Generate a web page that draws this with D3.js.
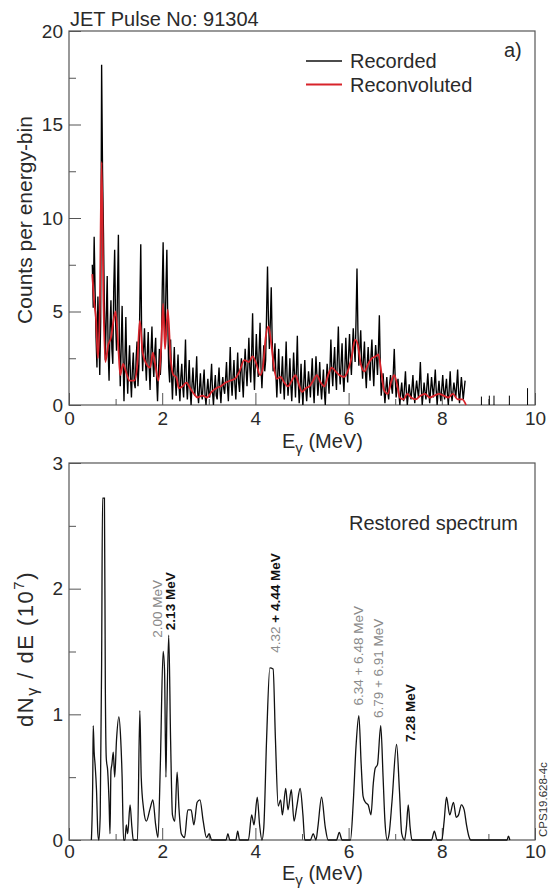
<!DOCTYPE html>
<html>
<head>
<meta charset="utf-8">
<script src="https://cdn.jsdelivr.net/npm/d3@7"></script>
<style>
  body { margin: 0; background: #fff; }
  svg text { font-family: "Liberation Sans", Arial, sans-serif; }
</style>
</head>
<body>
<div id="chart"></div>
<script>
// ---- data ----
// recorded spectrum, one value per 0.02 MeV channel starting at 0.50 MeV
const recStart = 0.5;
const recStep = 0.02;
const recCounts = [
  7.5, 5.2, 9.0, 6.1, 3.6, 2.0, 5.8, 3.9, 1.6, 4.5,
  18.2, 12.5, 9.2, 5.0, 2.4, 4.8, 6.9, 2.9, 1.3, 4.1,
  5.6, 3.0, 2.2, 6.2, 8.3, 4.4, 2.9, 6.0, 9.1, 3.4,
  1.0, 3.1, 5.3, 2.5, 0.2, 2.4, 4.7, 2.0, 0.6, 2.1,
  3.2, 1.5, 0.4, 1.9, 2.8, 1.2, 0.9, 2.5, 3.4, 1.0,
  2.1, 5.3, 8.6, 3.5, 1.8, 3.0, 4.1, 2.4, 1.3, 2.7,
  3.9, 2.0, 0.8, 2.9, 4.2, 2.3, 1.5, 2.8, 3.6, 1.4,
  0.2, 1.8, 3.0, 1.6, 2.6, 6.1, 8.7, 5.0, 3.3, 6.2,
  8.3, 4.4, 2.0, 1.2, 3.5, 1.6, 0.3, 1.9, 3.1, 1.4,
  0.5, 1.7, 2.7, 1.1, 0.2, 1.5, 2.2, 1.0, 0.4, 1.8,
  3.5, 1.2, 0.3, 1.3, 2.4, 0.8, 0.0, 1.1, 2.0, 0.9,
  0.5, 1.4, 2.6, 0.7, 0.1, 0.9, 1.7, 0.6, 0.3, 1.2,
  1.9, 0.5, 0.0, 0.8, 1.4, 0.6, 0.4, 1.3, 2.2, 0.7,
  0.0, 0.9, 1.6, 0.5, 0.3, 1.2, 2.0, 0.8, 0.1, 1.0,
  1.5, 0.9, 0.6, 1.4, 2.3, 1.0, 0.2, 1.6, 3.1, 1.3,
  0.5, 1.5, 2.4, 1.1, 0.3, 1.6, 2.8, 1.2, 0.7, 1.9,
  2.5, 1.3, 0.4, 1.8, 3.0, 1.9, 1.0, 2.2, 3.6, 2.0,
  1.2, 2.8, 4.9, 2.1, 0.8, 2.3, 3.8, 2.4, 1.5, 2.9,
  4.4, 2.0, 0.9, 2.1, 3.2, 1.8, 2.4, 4.9, 7.4, 4.6,
  3.0, 4.4, 6.3, 3.5, 1.8, 2.5, 3.3, 1.6, 0.4, 1.7,
  3.0, 1.4, 0.6, 1.5, 2.6, 1.2, 0.3, 1.8, 3.4, 1.5,
  0.5, 1.3, 2.5, 1.1, 0.2, 1.4, 2.8, 1.6, 0.4, 1.9,
  3.7, 1.2, 0.1, 1.0, 2.2, 0.8, 0.0, 1.3, 2.4, 0.9,
  0.2, 1.0, 1.8, 1.2, 0.4, 1.5, 2.5, 1.0, 0.1, 1.4,
  2.6, 1.6, 0.5, 1.2, 2.3, 1.0, 0.3, 1.1, 1.9, 0.7,
  0.0, 1.3, 2.2, 1.5, 0.6, 2.0, 3.5, 1.8, 1.0, 2.2,
  3.1, 1.6, 0.8, 2.6, 4.2, 2.0, 1.1, 2.3, 3.3, 1.5,
  0.7, 2.0, 3.6, 2.2, 1.2, 2.7, 3.8, 2.5, 1.6, 2.9,
  4.1, 3.0, 2.3, 4.6, 7.3, 4.0, 2.1, 3.0, 4.0, 2.4,
  1.4, 2.5, 3.4, 1.8, 0.9, 2.2, 3.1, 2.0, 1.3, 2.6,
  3.5, 2.0, 1.0, 2.3, 3.2, 2.5, 1.6, 3.0, 4.8, 2.2,
  0.5, 1.1, 1.7, 0.8, 0.1, 0.9, 1.5, 0.7, 0.3, 1.1,
  1.6, 1.0, 0.6, 1.8, 3.0, 1.4, 0.4, 0.9, 1.4, 0.6,
  0.0, 0.7, 1.2, 0.5, 0.2, 1.0, 1.8, 0.7, 0.0, 0.6,
  1.1, 0.6, 0.3, 0.9, 1.6, 0.7, 0.1, 0.8, 1.3, 0.8,
  0.4, 1.2, 2.3, 0.9, 0.0, 0.6, 1.2, 0.7, 0.3, 1.0,
  1.7, 0.8, 0.1, 0.8, 1.5, 0.9, 0.4, 1.1, 1.9, 0.8,
  0.0, 0.7, 1.3, 0.6, 0.2, 0.9, 1.6, 0.8, 0.3, 0.9,
  1.4, 0.6, 0.0, 0.9, 1.8, 0.7, 0.2, 0.7, 1.2, 0.8,
  0.4, 1.1, 1.9, 0.7, 0.1, 0.8, 1.5, 0.9, 0.3, 0.8,
  1.3
];
// isolated counts above 8.5 MeV
const tailE = [8.85, 9.02, 9.12, 9.45, 9.84];
const tailCounts = [0.45, 0.5, 0.5, 0.5, 0.9];

// reconvoluted curve
const reconE = [
  0.50, 0.54, 0.58, 0.62, 0.66, 0.70, 0.74, 0.78, 0.84, 0.90,
  0.96, 1.00, 1.06, 1.10, 1.16, 1.22, 1.30, 1.40, 1.46, 1.52,
  1.58, 1.66, 1.74, 1.80, 1.86, 1.92, 1.98, 2.02, 2.06, 2.12,
  2.18, 2.24, 2.30, 2.36, 2.44, 2.52, 2.60, 2.68, 2.76, 2.86,
  2.96, 3.06, 3.16, 3.26, 3.36, 3.46, 3.56, 3.66, 3.76, 3.86,
  3.94, 4.02, 4.10, 4.16, 4.22, 4.28, 4.34, 4.40, 4.46, 4.54,
  4.62, 4.70, 4.78, 4.86, 4.92, 5.00, 5.08, 5.16, 5.24, 5.32,
  5.40, 5.48, 5.56, 5.64, 5.72, 5.80, 5.90, 5.98, 6.06, 6.14,
  6.20, 6.26, 6.34, 6.42, 6.50, 6.58, 6.64, 6.70, 6.76, 6.84,
  6.92, 6.98, 7.04, 7.10, 7.18, 7.26, 7.34, 7.44, 7.54, 7.64,
  7.74, 7.84, 7.94, 8.04, 8.14, 8.24, 8.34, 8.44, 8.52
];
const reconCounts = [
  7.0, 5.5, 4.6, 2.5, 5.0, 13.0, 5.5, 2.3, 3.2, 3.6,
  4.6, 5.0, 3.0, 1.6, 2.2, 1.8, 1.3, 1.3, 2.0, 4.5,
  2.8, 2.2, 2.0, 2.8, 2.0, 1.3, 3.2, 5.4, 3.0, 5.1,
  2.5, 1.6, 1.5, 0.9, 1.0, 1.2, 0.9, 0.6, 0.4, 0.5,
  0.4, 0.7, 0.9, 1.0, 1.2, 1.3, 1.4, 1.8, 2.4, 2.3,
  2.6, 2.2, 1.6, 2.0, 3.6, 4.2, 3.3, 2.0, 1.4, 1.5,
  1.2, 1.0, 1.3, 1.6, 1.2, 0.7, 0.9, 1.0, 1.3, 1.6,
  1.2, 1.0, 1.6, 2.0, 1.8, 1.6, 1.5, 1.8, 2.5, 3.5,
  3.2, 2.2, 1.8, 2.2, 2.5, 2.6, 2.7, 1.8, 0.8, 0.6,
  1.3, 1.6, 1.1, 0.4, 0.3, 0.6, 0.4, 0.3, 0.5, 0.6,
  0.4, 0.5, 0.6, 0.5, 0.4, 0.6, 0.3, 0.3, 0.0
];

// restored spectrum (units of 10^7)
const restE = [
  0.48, 0.51, 0.52, 0.54, 0.56, 0.59, 0.62, 0.64, 0.67, 0.70,
  0.72, 0.76, 0.78, 0.80, 0.83, 0.86, 0.88, 0.90, 0.92, 0.95,
  0.98, 1.02, 1.07, 1.11, 1.14, 1.17, 1.20, 1.23, 1.26, 1.31,
  1.35, 1.38, 1.47, 1.52, 1.55, 1.60, 1.66, 1.74, 1.80, 1.86,
  1.91, 1.96, 2.02, 2.05, 2.08, 2.10, 2.14, 2.18, 2.22, 2.27,
  2.32, 2.36, 2.41, 2.48, 2.55, 2.62, 2.68, 2.75, 2.81, 2.88,
  2.95, 3.01, 3.06, 3.37, 3.41, 3.45, 3.58, 3.62, 3.66, 3.85,
  3.92, 3.97, 4.04, 4.09, 4.14, 4.18, 4.24, 4.31, 4.38, 4.43,
  4.49, 4.54, 4.58, 4.65, 4.70, 4.77, 4.83, 4.89, 4.96, 5.02,
  5.06, 5.18, 5.24, 5.30, 5.34, 5.42, 5.50, 5.56, 5.74, 5.80,
  5.86, 6.04, 6.10, 6.16, 6.22, 6.27, 6.31, 6.36, 6.42, 6.48,
  6.53, 6.57, 6.62, 6.69, 6.74, 6.78, 6.83, 6.87, 6.93, 7.03,
  7.09, 7.14, 7.20, 7.24, 7.28, 7.32, 7.36, 7.78, 7.84, 7.90,
  8.00, 8.05, 8.10, 8.17, 8.25, 8.31, 8.36, 8.42, 8.48, 8.53,
  8.58, 8.62, 9.40, 9.43, 9.46
];
const restValues = [
  0.00, 0.50, 0.91, 0.70, 0.60, 0.40, 0.05, 0.00, 0.20, 1.40,
  2.72, 2.72, 1.20, 0.65, 0.55, 0.30, 0.05, 0.55, 0.60, 0.70,
  0.50, 0.80, 0.98, 0.80, 0.50, 0.00, 0.00, 0.12, 0.05, 0.28,
  0.10, 0.00, 0.00, 1.03, 0.50, 0.25, 0.15, 0.25, 0.32, 0.12,
  0.02, 0.60, 1.50, 1.35, 0.50, 1.00, 1.63, 0.80, 0.20, 0.15,
  0.54, 0.25, 0.05, 0.02, 0.24, 0.24, 0.12, 0.30, 0.32, 0.15,
  0.02, 0.05, 0.00, 0.00, 0.05, 0.00, 0.00, 0.07, 0.00, 0.00,
  0.20, 0.12, 0.34, 0.12, 0.00, 0.10, 0.80, 1.37, 1.36, 0.80,
  0.27, 0.32, 0.20, 0.41, 0.24, 0.40, 0.15, 0.27, 0.41, 0.20,
  0.00, 0.00, 0.05, 0.00, 0.10, 0.34, 0.10, 0.00, 0.00, 0.06,
  0.00, 0.00, 0.30, 0.75, 0.99, 0.60, 0.35, 0.30, 0.28, 0.20,
  0.45, 0.57, 0.60, 0.91, 0.50, 0.15, 0.00, 0.05, 0.30, 0.76,
  0.40, 0.05, 0.00, 0.10, 0.28, 0.10, 0.00, 0.00, 0.07, 0.00,
  0.00, 0.15, 0.34, 0.20, 0.30, 0.18, 0.20, 0.28, 0.24, 0.12,
  0.03, 0.00, 0.00, 0.03, 0.00
];

// peak annotations: grey part and black bold part, anchored at (E, value)
const peakGrey = ["2.00 MeV", "", "4.32 ", "6.34 + 6.48 MeV", "6.79 + 6.91 MeV", ""];
const peakBold = ["", "2.13 MeV", "+ 4.44 MeV", "", "", "7.28 MeV"];
const peakE = [2.0, 2.27, 4.53, 6.31, 6.74, 7.42];
const peakV = [1.61, 1.67, 1.49, 1.07, 0.97, 0.78];

const xMajor = [0, 2, 4, 6, 8, 10];
const xMinor = [1, 3, 5, 7, 9];
const yTopMajor = [0, 5, 10, 15, 20];
const yTopMinor = [2.5, 7.5, 12.5, 17.5];
const yBotMajor = [0, 1, 2, 3];
const yBotMinor = [0.5, 1.5, 2.5];

// ---- layout ----
const width = 549, height = 895;
const left = 69, right = 535;
const panel1 = { y0: 31, y1: 405 };
const panel2 = { y0: 463, y1: 840 };
const frameColor = "#555";
const textColor = "#2a2a2a";

const svg = d3.select("#chart").append("svg")
    .attr("width", width)
    .attr("height", height);

const x = d3.scaleLinear().domain([0, 10]).range([left, right]);
const yTop = d3.scaleLinear().domain([0, 20]).range([panel1.y1, panel1.y0]);
const yBot = d3.scaleLinear().domain([0, 3]).range([panel2.y1, panel2.y0]);

// draws frame and inward ticks for one panel
function drawAxes(yScale, yMajor, yMinor, bottomY, labelPad) {
    svg.append("g")
        .attr("transform", `translate(0,${bottomY})`)
        .call(d3.axisBottom(x).tickValues(xMajor).tickSize(-12).tickPadding(labelPad).tickFormat(d3.format("d")));
    svg.append("g")
        .attr("transform", `translate(0,${bottomY})`)
        .call(d3.axisBottom(x).tickValues(xMinor).tickSize(-6).tickFormat(""));
    svg.append("g")
        .attr("transform", `translate(${left},0)`)
        .call(d3.axisLeft(yScale).tickValues(yMajor).tickSize(-12).tickPadding(6).tickFormat(d3.format("d")));
    svg.append("g")
        .attr("transform", `translate(${left},0)`)
        .call(d3.axisLeft(yScale).tickValues(yMinor).tickSize(-7).tickFormat(""));

    svg.selectAll(".domain").remove();
    svg.selectAll(".tick line").attr("stroke", frameColor);
    svg.selectAll(".tick text")
        .attr("fill", textColor)
        .style("font-size", "19px")
        .style("font-family", "'Liberation Sans', Arial, sans-serif");

    svg.append("rect")
        .attr("x", left)
        .attr("y", yScale.range()[1])
        .attr("width", right - left)
        .attr("height", yScale.range()[0] - yScale.range()[1])
        .attr("fill", "none")
        .attr("stroke", frameColor)
        .attr("stroke-width", 1.2);
}

// x axis title with subscript gamma
function xTitle(baseY) {
    const t = svg.append("text")
        .attr("x", 282)
        .attr("y", baseY)
        .attr("fill", textColor)
        .style("font-size", "20px");
    t.append("tspan").text("E");
    t.append("tspan").text("γ").style("font-size", "15px").attr("dy", 5);
    t.append("tspan").text(" (MeV)").attr("dy", -5);
}

// ---------- top panel ----------
svg.append("text")
    .attr("x", 70)
    .attr("y", 26)
    .attr("fill", textColor)
    .style("font-size", "20px")
    .text("JET Pulse No: 91304");

drawAxes(yTop, yTopMajor, yTopMinor, panel1.y1, 7);

const recLine = d3.line()
    .x((d, i) => x(recStart + i * recStep))
    .y(d => yTop(d));

svg.append("path")
    .datum(recCounts)
    .attr("d", recLine)
    .attr("fill", "none")
    .attr("stroke", "#000")
    .attr("stroke-width", 1.35);

svg.append("g")
    .selectAll("line")
    .data(tailE)
    .enter()
    .append("line")
    .attr("x1", d => x(d))
    .attr("x2", d => x(d))
    .attr("y1", yTop(0))
    .attr("y2", (d, i) => yTop(tailCounts[i]))
    .attr("stroke", "#000")
    .attr("stroke-width", 1);

const reconLine = d3.line()
    .x((d, i) => x(reconE[i]))
    .y(d => yTop(d))
    .curve(d3.curveMonotoneX);

svg.append("path")
    .datum(reconCounts)
    .attr("d", reconLine)
    .attr("fill", "none")
    .attr("stroke", "#d8232a")
    .attr("stroke-width", 1.8);

// legend
const legendItems = [
    { label: "Recorded", color: "#111", w: 1.4 },
    { label: "Reconvoluted", color: "#d8232a", w: 2 }
];
legendItems.forEach((item, i) => {
    const ly = 61 + i * 23.5;
    svg.append("line")
        .attr("x1", 306).attr("x2", 342)
        .attr("y1", ly).attr("y2", ly)
        .attr("stroke", item.color)
        .attr("stroke-width", item.w);
    svg.append("text")
        .attr("x", 350)
        .attr("y", ly + 7)
        .attr("fill", textColor)
        .style("font-size", "20px")
        .text(item.label);
});

svg.append("text")
    .attr("x", 504)
    .attr("y", 57)
    .attr("fill", textColor)
    .style("font-size", "20px")
    .text("a)");

svg.append("text")
    .attr("transform", "translate(32,220) rotate(-90)")
    .attr("text-anchor", "middle")
    .attr("fill", textColor)
    .style("font-size", "21px")
    .text("Counts per energy-bin");

xTitle(448);

// ---------- bottom panel ----------
drawAxes(yBot, yBotMajor, yBotMinor, panel2.y1, 5);

const restLine = d3.line()
    .x((d, i) => x(restE[i]))
    .y(d => yBot(d))
    .curve(d3.curveMonotoneX);

svg.append("path")
    .datum(restValues)
    .attr("d", restLine)
    .attr("fill", "none")
    .attr("stroke", "#111")
    .attr("stroke-width", 1.3);

svg.append("text")
    .attr("x", 349)
    .attr("y", 530)
    .attr("fill", textColor)
    .style("font-size", "20px")
    .text("Restored spectrum");

// rotated peak labels
peakE.forEach((e, i) => {
    const t = svg.append("text")
        .attr("transform", `translate(${x(e)},${yBot(peakV[i])}) rotate(-90)`)
        .style("font-size", "13.5px");
    if (peakGrey[i]) t.append("tspan").attr("fill", "#8a8a8a").text(peakGrey[i]);
    if (peakBold[i]) t.append("tspan").attr("fill", "#111").style("font-weight", "bold").text(peakBold[i]);
});

// y title with subscript and superscript
const yt = svg.append("text")
    .attr("transform", "translate(33,649) rotate(-90)")
    .attr("text-anchor", "middle")
    .attr("fill", textColor)
    .style("font-size", "22px")
    .style("letter-spacing", "1.5px");
yt.append("tspan").text("dN");
yt.append("tspan").text("γ").style("font-size", "16px").attr("dy", 5);
yt.append("tspan").text(" / dE (10").attr("dy", -5);
yt.append("tspan").text("7").style("font-size", "15px").attr("dy", -9);
yt.append("tspan").text(")").attr("dy", 9);

xTitle(880);

svg.append("text")
    .attr("transform", "translate(547,837) rotate(-90)")
    .attr("fill", "#333")
    .style("font-size", "11.5px")
    .text("CPS19.628-4c");
</script>
</body>
</html>
